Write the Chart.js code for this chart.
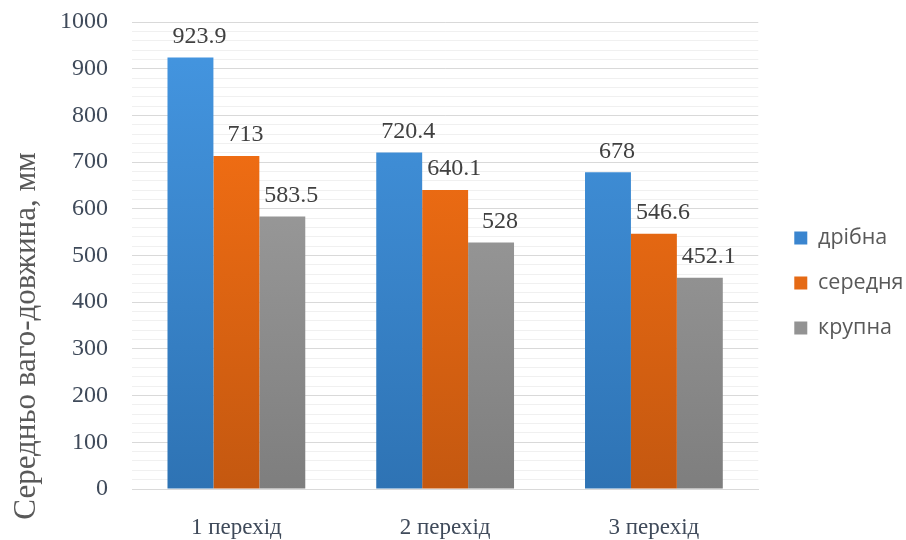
<!DOCTYPE html>
<html lang="uk">
<head>
<meta charset="UTF-8">
<title>Середньо ваго-довжина</title>
<script src="https://cdn.jsdelivr.net/npm/chart.js@4.4.3/dist/chart.umd.min.js"></script>
<style>
  body { margin: 0; background: #fff; }
  #wrap { width: 906px; height: 540px; }
</style>
</head>
<body>
<div id="wrap"><canvas id="chart" width="906" height="540"></canvas></div>
<script>
const categories = ['1 перехід', '2 перехід', '3 перехід'];
const seriesNames = ['дрібна', 'середня', 'крупна'];
const dribna = [923.9, 720.4, 678];
const serednia = [713, 640.1, 546.6];
const krupna = [583.5, 528, 452.1];
const yTitle = 'Середньо ваго-довжина, мм';

// top / bottom colours of each bar gradient, plus flat legend colour
const shades = [
  { top: '#4597e2', bottom: '#2e73b4', flat: '#3a85cf' },
  { top: '#ff7414', bottom: '#c45810', flat: '#e56a15' },
  { top: '#a8a8a8', bottom: '#7e7e7e', flat: '#939393' }
];

const serif = '"Liberation Serif", "DejaVu Serif", serif';

function grad(i) {
  return function(ctx) {
    const area = ctx.chart.chartArea;
    if (!area) return shades[i].flat;
    const g = ctx.chart.ctx.createLinearGradient(0, area.top, 0, area.bottom);
    g.addColorStop(0, shades[i].top);
    g.addColorStop(1, shades[i].bottom);
    return g;
  };
}

// value labels above the bars
const valueLabels = {
  id: 'valueLabels',
  afterDatasetsDraw(chart) {
    const c = chart.ctx;
    c.save();
    c.font = '24px ' + serif;
    c.fillStyle = '#404040';
    c.textAlign = 'center';
    c.textBaseline = 'bottom';
    chart.data.datasets.forEach((ds, i) => {
      chart.getDatasetMeta(i).data.forEach((bar, j) => {
        c.fillText(String(ds.data[j]), bar.x + 9, bar.y - 9);
      });
    });
    c.restore();
  }
};

// y axis title, placed lower than the plot centre like the original
const axisTitle = {
  id: 'axisTitle',
  afterDraw(chart) {
    const c = chart.ctx;
    c.save();
    c.translate(27, 336);
    c.rotate(-Math.PI / 2);
    c.font = '31px ' + serif;
    c.fillStyle = '#595959';
    c.textAlign = 'center';
    c.textBaseline = 'middle';
    c.fillText(yTitle, 0, 0);
    c.restore();
  }
};

// adjust the legend box width and shift its items right / down
const legendTweak = {
  id: 'legendTweak',
  beforeLayout(chart) {
    const lg = chart.legend;
    if (!lg || lg._tweaked) return;
    lg._tweaked = true;
    const fit = lg.fit.bind(lg);
    lg.fit = function() { fit(); this.width -= 1; };
    const draw = lg.draw.bind(lg);
    lg.draw = function() {
      const c = chart.ctx;
      c.save();
      c.translate(12.5, 9);
      draw();
      c.restore();
    };
  }
};

new Chart(document.getElementById('chart'), {
  type: 'bar',
  data: {
    labels: categories,
    datasets: [
      { label: seriesNames[0], data: dribna, backgroundColor: grad(0) },
      { label: seriesNames[1], data: serednia, backgroundColor: grad(1) },
      { label: seriesNames[2], data: krupna, backgroundColor: grad(2) }
    ]
  },
  options: {
    responsive: false,
    animation: false,
    layout: { padding: { top: 8, right: 6, left: 0, bottom: 0 } },
    datasets: { bar: { barPercentage: 1, categoryPercentage: 0.66 } },
    scales: {
      x: {
        grid: { display: false, drawTicks: false },
        border: { color: '#d9d9d9' },
        afterFit: scale => { scale.height = 51; },
        ticks: { color: '#3f4a5a', font: { family: serif, size: 23 }, padding: 25 }
      },
      y: {
        min: 0,
        max: 1000,
        border: { display: false },
        afterFit: scale => {
          scale.width = 132;
          scale.paddingTop = 22;
          scale.paddingBottom = 0;
        },
        grid: {
          color: ctx => (ctx.tick && ctx.tick.value % 100 === 0) ? '#d9d9d9' : '#f0f0f0',
          drawTicks: false
        },
        ticks: {
          stepSize: 20,
          autoSkip: false,
          padding: 24,
          color: '#3f4a5a',
          font: { family: serif, size: 24 },
          callback: v => (v % 100 === 0 ? v : '')
        }
      }
    },
    plugins: {
      tooltip: { enabled: false },
      legend: {
        position: 'right',
        labels: {
          boxWidth: 13,
          boxHeight: 13,
          padding: 23.5,
          color: '#595959',
          font: { family: '"Open Sans", "DejaVu Sans", sans-serif', size: 21.5 },
          generateLabels: chart => chart.data.datasets.map((ds, i) => ({
            text: ds.label,
            fillStyle: shades[i].flat,
            strokeStyle: shades[i].flat,
            lineWidth: 0,
            datasetIndex: i,
            fontColor: '#595959'
          }))
        }
      }
    }
  },
  plugins: [valueLabels, axisTitle, legendTweak]
});
</script>
</body>
</html>
